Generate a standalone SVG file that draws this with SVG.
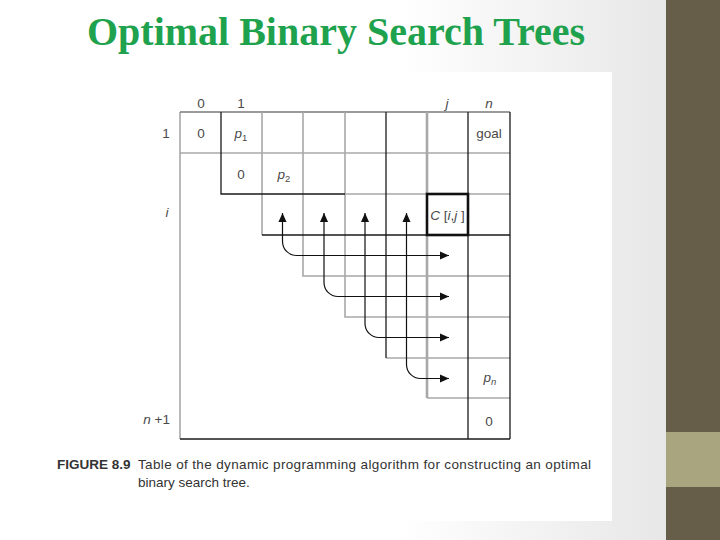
<svg xmlns="http://www.w3.org/2000/svg" width="720" height="540" viewBox="0 0 720 540">
<defs>
<linearGradient id="bg" x1="0" y1="0" x2="666" y2="0" gradientUnits="userSpaceOnUse">
<stop offset="0" stop-color="#ffffff"/><stop offset="0.6" stop-color="#ffffff"/><stop offset="1" stop-color="#e7e7e7"/>
</linearGradient>
<marker id="ah" viewBox="0 0 10 10" refX="10" refY="5" markerWidth="9" markerHeight="9" markerUnits="userSpaceOnUse" orient="auto-start-reverse"><path d="M0,0.5 L10,5 L0,9.5 z" fill="#111"/></marker>
</defs>
<style>
.g{stroke:#a8a8a8;stroke-width:1.6;fill:none}
.gt{stroke:#a8a8a8;stroke-width:2.6;fill:none}
.k{stroke:#1a1a1a;stroke-width:1.3;fill:none}
.t{font-family:"Liberation Sans",Arial,sans-serif;font-size:13.5px;fill:#4a4a4a}
.it{font-style:italic}
.cap{font-family:"Liberation Sans",Arial,sans-serif;font-size:13.5px;fill:#333}
.arr{stroke:#111;stroke-width:1.2;fill:none}
</style>
<rect width="720" height="540" fill="url(#bg)"/>
<rect x="40" y="72" width="572" height="449" fill="#ffffff"/>
<rect x="666" y="0" width="54" height="540" fill="#665e48"/>
<rect x="666" y="432" width="54" height="55" fill="#a9a67f"/>
<text x="87" y="45" font-family="'Liberation Serif','Times New Roman',serif" font-weight="bold" font-size="40" fill="#1fa24e" textLength="498" lengthAdjust="spacingAndGlyphs">Optimal Binary Search Trees</text>

<g id="table">
<path class="g" d="M180,112 V439"/>
<path d="M180,112 H510" stroke="#7a7a7a" stroke-width="1.4" fill="none"/>
<path class="g" d="M180,153 H510"/>
<path class="g" d="M262,112 V235"/>
<path class="g" d="M303,112 V276 H510"/>
<path class="g" d="M345,112 V317 H510"/>
<path class="g" d="M345,194 H427 M468,194 H510"/>
<path class="g" d="M386,358 H510"/>
<path class="g" d="M427,398 H510"/>
<path class="gt" d="M427,112 V194 M427,235 V398"/>
<path class="k" d="M221,112 V194 H345"/>
<path class="k" d="M262,235 H510"/>
<path class="k" d="M386,112 V358"/>
<path class="k" d="M468,112 V439"/>
<path class="k" d="M510,112 V439"/>
<path class="k" d="M180,439 H510"/>
</g>
<g id="cell-cij">
<rect x="427" y="194" width="41" height="41" fill="none" stroke="#111" stroke-width="2.6"/>
<text class="t" x="447.5" y="220" text-anchor="middle" font-size="12.5"><tspan class="it">C</tspan> [<tspan class="it">i</tspan>,<tspan class="it">j</tspan> ]</text>
</g>

<g id="headers">
<text class="t" x="201" y="108" text-anchor="middle">0</text>
<text class="t" x="241" y="108" text-anchor="middle">1</text>
<text class="t it" x="447" y="108" text-anchor="middle">j</text>
<text class="t it" x="489" y="108" text-anchor="middle">n</text>
<text class="t" x="166" y="138" text-anchor="middle">1</text>
<text class="t it" x="167" y="217" text-anchor="middle">i</text>
<text class="t" x="170" y="424" text-anchor="end"><tspan class="it">n</tspan> +1</text>
</g>
<g id="cells">
<text class="t" x="201" y="138" text-anchor="middle">0</text>
<text class="t" x="241" y="138" text-anchor="middle"><tspan class="it">p</tspan><tspan font-size="9.5" dy="3">1</tspan></text>
<text class="t" x="241" y="179" text-anchor="middle">0</text>
<text class="t" x="284" y="179" text-anchor="middle"><tspan class="it">p</tspan><tspan font-size="9.5" dy="3">2</tspan></text>
<text class="t" x="489" y="138" text-anchor="middle">goal</text>
<text class="t" x="490" y="382" text-anchor="middle"><tspan class="it">p</tspan><tspan class="it" font-size="9.5" dy="3">n</tspan></text>
<text class="t" x="489" y="426" text-anchor="middle">0</text>
</g>

<g id="connectors">
<path class="arr" marker-start="url(#ah)" marker-end="url(#ah)" d="M282.5,213 V241.5 A14,14 0 0 0 296.5,255.5 H449"/>
<path class="arr" marker-start="url(#ah)" marker-end="url(#ah)" d="M324,213 V282.5 A14,14 0 0 0 338,296.5 H449"/>
<path class="arr" marker-start="url(#ah)" marker-end="url(#ah)" d="M365,213 V323.5 A14,14 0 0 0 379,337.5 H449"/>
<path class="arr" marker-start="url(#ah)" marker-end="url(#ah)" d="M406.5,213 V364.5 A14,14 0 0 0 420.5,378.5 H449"/>
</g>

<g id="caption">
<text class="cap" x="57" y="469" font-weight="bold" fill="#222">FIGURE 8.9</text>
<text class="cap" x="138" y="469" textLength="453">Table of the dynamic programming algorithm for constructing an optimal</text>
<text class="cap" x="138" y="487">binary search tree.</text>
</g>
</svg>
